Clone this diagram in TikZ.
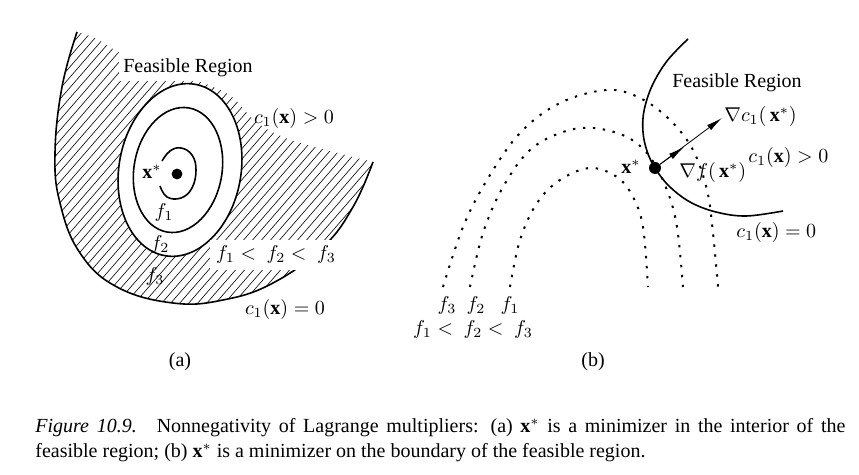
\documentclass[tikz,border=0pt]{standalone}
\usepackage{fontspec}
\setmainfont{Liberation Serif}
\usepackage{tikz}
\usetikzlibrary{arrows.meta}
\usetikzlibrary{positioning}

\tikzset{
  contour/.style={line width=0.8pt},
  level/.style={line width=1pt, dash pattern=on 1.2pt off 3.8pt},
  hatch/.style={line width=0.3pt},
  vec/.style={line width=0.4pt, -{Latex[length=8pt,width=3.2pt]}},
  lbl/.style={inner sep=1pt},
  dot/.style={circle, fill, inner sep=0pt, minimum size=5.4pt}
}

\begin{document}
\begin{tikzpicture}[x=0.5pt, y=-0.5pt]
\useasboundingbox (0,0) rectangle (859,475);

% (a) interior minimizer
\begin{scope}
\clip plot[smooth, tension=0.7] coordinates {(77,32) (62,87) (55,153) (60,203) (80,253) (117,287) (173,303) (223,300) (273,283) (323,247) (353,207) (373,162)}
  -- plot[smooth, tension=0.6] coordinates {(373,162) (330,151) (288,139) (256,122) (232,97) (200,82) (150,70) (118,52) (95,38) (77,32)} -- cycle;
\foreach \k in {-400,-391,...,400}
  \draw[hatch] (\k,380) -- ++(330,-380);
\end{scope}
\draw[contour] plot[smooth, tension=0.7] coordinates {(77,32) (62,87) (55,153) (60,203) (80,253) (117,287) (173,303) (223,300) (273,283) (323,247) (353,207) (373,162)};
\draw[contour, fill=white] (180,170) ellipse [x radius=61, y radius=87, rotate=-10];
\draw[contour] (178,170) ellipse [x radius=44, y radius=63, rotate=-10];
\draw[contour] plot[smooth, tension=0.7] coordinates {(162,161) (170,151) (181,148) (192,155) (196,170) (192,188) (181,198) (167,197) (160,186)};
\node[dot] (xa) at (177,174) {};
\node[lbl] (xal) at (152,172) {$\mathbf{x}^*$};
\node[lbl] (f1a) at (164,213) {$f_1$};
\node[lbl] (f2a) at (160,245) {$f_2$};
\node[lbl] (f3a) at (155,277) {$f_3$};
\node[lbl, fill=white, inner sep=2pt] (fra) at (188,68) {Feasible Region};
\node[lbl] (cpa) at (294,119) {$c_1(\mathbf{x}) > 0$};
\node[lbl, fill=white, inner sep=3pt] (ordera) at (276,255) {$f_1 <\ f_2 <\ f_3$};
\node[lbl] (cza) at (285,310) {$c_1(\mathbf{x}) = 0$};
\node (capa) at (180,362) {(a)};

% (b) boundary minimizer
\draw[level] plot[smooth, tension=0.6] coordinates {(443,287) (463,227) (487,180) (520,133) (560,103) (607,90) (640,98) (670,120) (693,150) (707,190) (713,233) (718,287)};
\draw[level] plot[smooth, tension=0.6] coordinates {(470,287) (483,233) (503,187) (530,150) (563,132) (593,128) (627,137) (650,157) (667,190) (677,227) (683,287)};
\draw[level] plot[smooth, tension=0.6] coordinates {(510,287) (520,240) (537,203) (560,180) (590,168) (617,177) (633,197) (643,227) (648,287)};
\draw[contour] plot[smooth, tension=0.6] coordinates {(688,39) (667,61) (652,86) (644,111) (643,132) (647,151) (655,168) (669,186) (690,202) (716,212) (746,216) (783,211)};
\node[dot, minimum size=6pt] (xb) at (655,168) {};
\coordinate (gc) at (722,118);
\coordinate (gf) at (684,147);
\draw[vec] (xb) -- (gc);
\draw[vec] (xb) -- (gf);
\node[lbl] (xbl) at (631,167) {$\mathbf{x}^*$};
\node[lbl, anchor=west] (gcl) at (722,117) {$\nabla c_1(\,\mathbf{x}^*)$};
\node[lbl, anchor=west] (gfl) at (677,173) {$\nabla f(\,\mathbf{x}^*)$};
\node[lbl] (frb) at (737,83) {Feasible Region};
\node[lbl, anchor=west] (cpb) at (746,158) {$c_1(\mathbf{x}) > 0$};
\node[lbl, anchor=west] (czb) at (734,233) {$c_1(\mathbf{x}) = 0$};
\node[lbl] (f3b) at (447,306) {$f_3$};
\node[lbl] (f2b) at (476,306) {$f_2$};
\node[lbl] (f1b) at (510,306) {$f_1$};
\node[lbl] (orderb) at (473,330) {$f_1 <\ f_2 <\ f_3$};
\node (capb) at (593,362) {(b)};

% caption
\node[anchor=base west, inner sep=0pt] (cap1) at (35,433)
  {\makebox[405pt][s]{\textit{Figure 10.9.}\hspace{1em}Nonnegativity of Lagrange multipliers: (a) $\mathbf{x}^*$ is a minimizer in the interior of the}};
\node[anchor=base west, inner sep=0pt] (cap2) at (35,458)
  {feasible region; (b) $\mathbf{x}^*$ is a minimizer on the boundary of the feasible region.};
\end{tikzpicture}
\end{document}
